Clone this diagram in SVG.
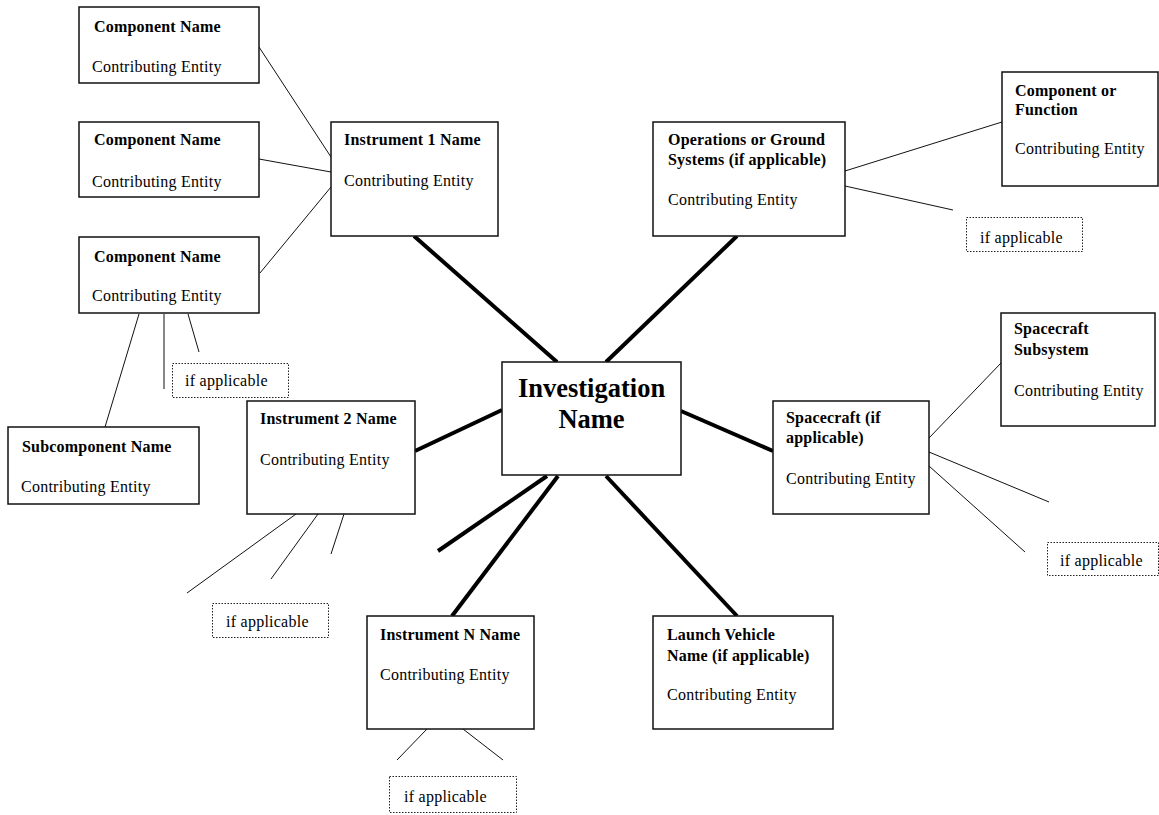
<svg xmlns="http://www.w3.org/2000/svg" width="1159" height="815" viewBox="0 0 1159 815">
<style>
  .box { fill: #ffffff; stroke: #111111; stroke-width: 1.5; }
  .dot { fill: #ffffff; stroke: #222222; stroke-width: 1; stroke-dasharray: 1.5 1.5; }
  .thin { stroke: #111111; stroke-width: 1; fill: none; }
  .thick { stroke: #000000; stroke-width: 4; fill: none; }
  text { font-family: "Liberation Serif", "Times New Roman", serif; fill: #000000; }
  .t { font-size: 16px; font-weight: bold; letter-spacing: 0.2px; }
  .c { font-size: 16px; letter-spacing: 0.25px; }
  .big { font-size: 26.5px; font-weight: bold; }
</style>
<rect width="1159" height="815" fill="#ffffff"/>
<g id="connectors">
  <line class="thin" x1="259" y1="47" x2="331" y2="157"/>
  <line class="thin" x1="259" y1="159" x2="331" y2="172"/>
  <line class="thin" x1="260" y1="273" x2="331" y2="187"/>
  <line class="thin" x1="139" y1="314" x2="105" y2="427"/>
  <line class="thin" x1="164" y1="314" x2="164" y2="389"/>
  <line class="thin" x1="188" y1="314" x2="199" y2="352"/>
  <line class="thin" x1="296" y1="514" x2="187" y2="593"/>
  <line class="thin" x1="318" y1="514" x2="271" y2="579"/>
  <line class="thin" x1="344" y1="514" x2="331" y2="554"/>
  <line class="thin" x1="427" y1="729" x2="397" y2="760"/>
  <line class="thin" x1="463" y1="729" x2="503" y2="760"/>
  <line class="thin" x1="845" y1="171" x2="1002" y2="122"/>
  <line class="thin" x1="845" y1="186" x2="953" y2="210"/>
  <line class="thin" x1="929" y1="438" x2="1001" y2="363"/>
  <line class="thin" x1="929" y1="452" x2="1049" y2="502"/>
  <line class="thin" x1="929" y1="466" x2="1025" y2="552"/>
  <line class="thick" x1="414" y1="236" x2="557" y2="362"/>
  <line class="thick" x1="606" y1="362" x2="737" y2="236"/>
  <line class="thick" x1="415" y1="451" x2="502" y2="410"/>
  <line class="thick" x1="681" y1="411" x2="773" y2="451"/>
  <line class="thick" x1="547" y1="476" x2="438" y2="551"/>
  <line class="thick" x1="558" y1="476" x2="452" y2="616"/>
  <line class="thick" x1="606" y1="476" x2="737" y2="616"/>
</g>
<g id="comp1">
  <rect class="box" x="79" y="7" width="180" height="76"/>
  <text class="t" x="94" y="32">Component Name</text>
  <text class="c" x="92" y="72">Contributing Entity</text>
</g>
<g id="comp2">
  <rect class="box" x="79" y="122" width="180" height="75"/>
  <text class="t" x="94" y="145">Component Name</text>
  <text class="c" x="92" y="187">Contributing Entity</text>
</g>
<g id="comp3">
  <rect class="box" x="79" y="237" width="180" height="76"/>
  <text class="t" x="94" y="262">Component Name</text>
  <text class="c" x="92" y="301">Contributing Entity</text>
</g>
<g id="ifapp1">
  <rect class="dot" x="172.5" y="363.5" width="116" height="34"/>
  <text class="c" x="185" y="386">if applicable</text>
</g>
<g id="subcomponent">
  <rect class="box" x="8" y="427" width="191" height="77"/>
  <text class="t" x="22" y="452">Subcomponent Name</text>
  <text class="c" x="21" y="492">Contributing Entity</text>
</g>
<g id="instrument1">
  <rect class="box" x="331" y="122" width="167" height="114"/>
  <text class="t" x="344" y="145">Instrument 1 Name</text>
  <text class="c" x="344" y="186">Contributing Entity</text>
</g>
<g id="instrument2">
  <rect class="box" x="247" y="401" width="168" height="113"/>
  <text class="t" x="260" y="424">Instrument 2 Name</text>
  <text class="c" x="260" y="465">Contributing Entity</text>
</g>
<g id="ifapp2">
  <rect class="dot" x="212.5" y="603.5" width="116" height="34"/>
  <text class="c" x="226" y="627">if applicable</text>
</g>
<g id="investigation">
  <rect class="box" x="502" y="362" width="179" height="113"/>
  <text class="big" x="591.5" y="397" text-anchor="middle">Investigation</text>
  <text class="big" x="591.5" y="428" text-anchor="middle">Name</text>
</g>
<g id="instrumentN">
  <rect class="box" x="367" y="616" width="167" height="113"/>
  <text class="t" x="380" y="640">Instrument N Name</text>
  <text class="c" x="380" y="680">Contributing Entity</text>
</g>
<g id="ifapp3">
  <rect class="dot" x="389.5" y="776.5" width="127" height="36"/>
  <text class="c" x="404" y="802">if applicable</text>
</g>
<g id="launch">
  <rect class="box" x="653" y="616" width="180" height="113"/>
  <text class="t" x="667" y="640">Launch Vehicle</text>
  <text class="t" x="667" y="661">Name (if applicable)</text>
  <text class="c" x="667" y="700">Contributing Entity</text>
</g>
<g id="operations">
  <rect class="box" x="653" y="122" width="192" height="114"/>
  <text class="t" x="668" y="145">Operations or Ground</text>
  <text class="t" x="668" y="165">Systems (if applicable)</text>
  <text class="c" x="668" y="205">Contributing Entity</text>
</g>
<g id="compfunction">
  <rect class="box" x="1002" y="72" width="156" height="114"/>
  <text class="t" x="1015" y="96">Component or</text>
  <text class="t" x="1015" y="115">Function</text>
  <text class="c" x="1015" y="154">Contributing Entity</text>
</g>
<g id="ifapp4">
  <rect class="dot" x="966.5" y="217.5" width="116" height="34"/>
  <text class="c" x="980" y="243">if applicable</text>
</g>
<g id="spacecraft">
  <rect class="box" x="773" y="401" width="156" height="113"/>
  <text class="t" x="786" y="423">Spacecraft (if</text>
  <text class="t" x="786" y="443">applicable)</text>
  <text class="c" x="786" y="484">Contributing Entity</text>
</g>
<g id="subsystem">
  <rect class="box" x="1001" y="313" width="154" height="113"/>
  <text class="t" x="1014" y="334">Spacecraft</text>
  <text class="t" x="1014" y="355">Subsystem</text>
  <text class="c" x="1014" y="396">Contributing Entity</text>
</g>
<g id="ifapp5">
  <rect class="dot" x="1047.5" y="542.5" width="111" height="33"/>
  <text class="c" x="1060" y="566">if applicable</text>
</g>
</svg>
